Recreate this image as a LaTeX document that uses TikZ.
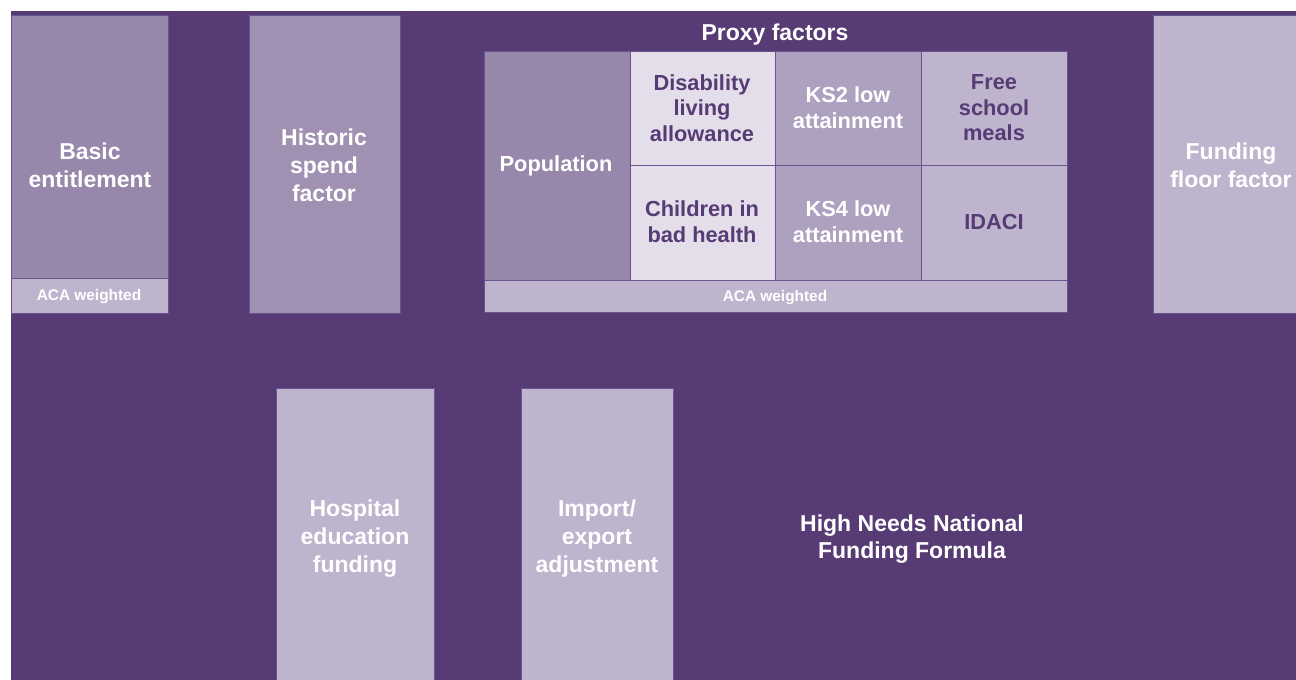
\documentclass[tikz,border=0pt]{standalone}
\usepackage{fontspec}
\setmainfont{Liberation Sans}

\definecolor{hnback}{HTML}{573B75}
\definecolor{hnline}{HTML}{6B5590}
\definecolor{hnmid}{HTML}{9787AB}
\definecolor{hnhist}{HTML}{A091B3}
\definecolor{hnks}{HTML}{AEA1C0}
\definecolor{hnlight}{HTML}{BFB4CE}
\definecolor{hnpale}{HTML}{E3DEEA}

\tikzset{
	cell/.style={draw=hnline, line width=0.5pt},
	bigtext/.style={font=\bfseries\fontsize{11.5}{14}\selectfont, text=white, align=center, inner sep=0},
	celltext/.style={font=\bfseries\fontsize{10.9}{12.8}\selectfont, align=center, inner sep=0},
	smalltext/.style={font=\bfseries\fontsize{7.7}{9}\selectfont, text=white, inner sep=0}
}

\begin{document}
\begin{tikzpicture} [x=0.5pt, y=-0.5pt]

			\useasboundingbox (0,0) rectangle (1296,680);
			\fill [white] (0,0) rectangle (1296,680);
			\fill [hnback] (11,11) rectangle (1296,680);

			% top row
			\filldraw [cell, fill=hnmid] (11,15) rectangle (168,278);
			\filldraw [cell, fill=hnlight] (11,278) rectangle (168,313);
			\node [bigtext] (basic) at (90,165) {Basic\\entitlement};
			\node [smalltext] (basicaca) at (89,297) {ACA weighted};

			\filldraw [cell, fill=hnhist] (249,15) rectangle (400,313);
			\node [bigtext] (historic) at (324,165) {Historic\\spend\\factor};

			\filldraw [cell, fill=hnlight] (1153,15) rectangle (1296,313);
			\node [bigtext] (floor) at (1231,165) {Funding\\floor factor};

			% proxy factors
			\node [font=\bfseries\fontsize{11.5}{13}\selectfont, text=white, inner sep=0] (proxy) at (775,35) {Proxy factors};

			\filldraw [cell, fill=hnmid] (484,51) rectangle (630,280);
			\filldraw [cell, fill=hnpale] (630,51) rectangle (775,165);
			\filldraw [cell, fill=hnpale] (630,165) rectangle (775,280);
			\filldraw [cell, fill=hnks] (775,51) rectangle (921,165);
			\filldraw [cell, fill=hnks] (775,165) rectangle (921,280);
			\filldraw [cell, fill=hnlight] (921,51) rectangle (1067,165);
			\filldraw [cell, fill=hnlight] (921,165) rectangle (1067,280);
			\filldraw [cell, fill=hnlight] (484,280) rectangle (1067,312);

			\node [celltext, text=white] (population) at (556,166) {Population};
			\node [celltext, text=hnback] (disability) at (702,108) {Disability\\living\\allowance};
			\node [celltext, text=hnback] (health) at (702,222) {Children in\\bad health};
			\node [celltext, text=white] (kstwo) at (848,108) {KS2 low\\attainment};
			\node [celltext, text=white] (ksfour) at (848,222) {KS4 low\\attainment};
			\node [celltext, text=hnback] (meals) at (994,108) {Free\\school\\meals};
			\node [celltext, text=hnback] (idaci) at (994,222) {IDACI};
			\node [smalltext] (proxyaca) at (775,298) {ACA weighted};

			% bottom row
			\filldraw [cell, fill=hnlight] (276,388) rectangle (434,681);
			\node [bigtext] (hospital) at (355,539) {Hospital\\education\\funding};

			\filldraw [cell, fill=hnlight] (521,388) rectangle (673,681);
			\node [bigtext] (import) at (597,539) {Import/\\export\\adjustment};

			\node [font=\bfseries\fontsize{11.5}{13.8}\selectfont, text=white, align=center, inner sep=0] (hnnff) at (912,539) {High Needs National\\Funding Formula};
		\end{tikzpicture}
\end{document}
